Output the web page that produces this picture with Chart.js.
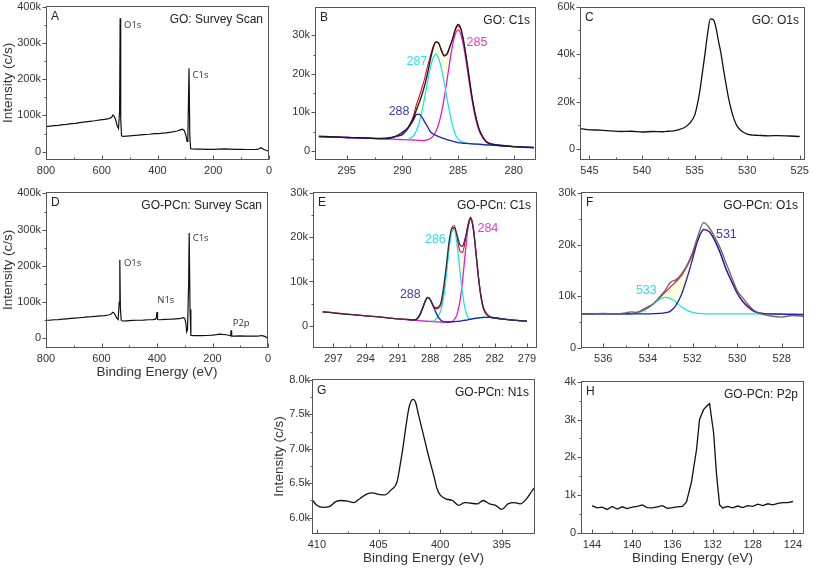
<!DOCTYPE html>
<html>
<head>
<meta charset="utf-8">
<title>XPS spectra of GO and GO-PCn</title>
<script src="https://cdn.jsdelivr.net/npm/chart.js@4.4.1/dist/chart.umd.min.js"></script>
<style>
  body { margin: 0; background: #fff; width: 813px; height: 568px; position: relative; overflow: hidden; }
  canvas { position: absolute; }
</style>
</head>
<body>
<script>
// all intensities in k counts/s

// A: GO survey
var surveyEnergyTicks = [800, 600, 400, 200, 0];
var surveyCountTicks = [0, 100, 200, 300, 400];
var goSurveyEnergy = [800, 785, 770, 755, 740, 725, 710, 695, 680, 665, 650, 635, 620, 605, 590, 575, 565, 560, 555, 550,
  545, 540, 536, 534, 532, 529, 525, 510, 490, 470, 450, 430, 410, 400, 390, 370, 350, 330, 318, 310,
  304, 298, 294, 291, 287, 284, 281, 278, 260, 240, 220, 200, 180, 160, 140, 120, 100, 80, 60, 45,
  35, 30, 25, 18, 10, 4, 0];
var goSurveyCounts = [69, 70.5, 72, 72.5, 74.5, 75.5, 77.5, 78, 80, 81.5, 83, 84, 86, 87.5, 89, 91, 94, 101, 97, 88,
  72, 64, 110, 368, 90, 44, 42, 43, 44.5, 45.5, 47, 48, 49.5, 50, 50.5, 52, 54, 57, 60, 62,
  58, 45, 28, 40, 230, 40, 8, 7.5, 7, 7, 6.5, 6.5, 7, 7.5, 7, 6.5, 6.5, 6, 6, 6.5,
  8, 11, 9, 6, 4, 2, 0];

// B: GO C1s
var goC1sEnergyTicks = [295, 290, 285, 280];
var goC1sCountTicks = [0, 10, 20, 30];
var goC1sEnergy = [297.5, 296, 295, 294, 293, 292, 291, 290.5, 290, 289.5, 289, 288.75, 288.5, 288.25, 288, 287.75, 287.5, 287.25, 287, 286.75,
  286.5, 286.25, 286, 285.75, 285.5, 285.25, 285, 284.75, 284.5, 284.25, 284, 283.75, 283.5, 283.25, 283, 282.5, 282, 281, 280, 279, 278.2];
var goC1sData = [3.75, 3.6, 3.45, 3.4, 3.25, 3.2, 3.5, 3.9, 4.8, 6.0, 8.5, 10.5, 12.5, 14.5, 17.0, 20.0, 23.5, 26.5, 28.2, 28.0,
  26.0, 24.6, 25.2, 27.0, 29.0, 31.5, 32.8, 31.8, 28.5, 24.0, 19.0, 14.0, 10.0, 7.0, 4.8, 2.4, 1.7, 1.3, 1.1, 0.9, 0.8];
var goC1sFit = [3.7, 3.55, 3.45, 3.35, 3.25, 3.15, 3.3, 3.8, 4.3, 5.9, 9.1, 11.9, 14.0, 16.3, 18.8, 21.8, 24.5, 27.0, 28.3, 28.0,
  26.3, 24.8, 25.0, 26.8, 29.0, 31.4, 32.4, 31.5, 28.3, 23.8, 18.9, 14.0, 10.2, 7.0, 4.8, 2.5, 1.8, 1.4, 1.1, 0.95, 0.85];
var goC1s288 = [3.7, 3.55, 3.45, 3.35, 3.25, 3.15, 3.3, 3.8, 4.2, 5.8, 8.0, 9.4, 9.5, 8.8, 7.5, 6.3, 5.0, 4.4, 4.0, 3.7,
  3.4, 3.15, 2.9, 2.7, 2.5, 2.3, 2.1, 2.05, 1.95, 1.9, 1.85, 1.8, 1.75, 1.7, 1.65, 1.55, 1.5, 1.3, 1.1, 0.95, 0.85];
var goC1s287 = [null, null, null, null, null, null, null, null, null, 2.9, 3.9, 5.2, 7.2, 10.1, 13.8, 17.8, 21.4, 24.0, 25.1, 24.0,
  21.4, 17.8, 13.7, 9.9, 6.6, 4.3, 3.0, 2.5, 2.2, 2.0, 1.9, 1.85, 1.8, 1.75, 1.7, 1.55, 1.45, 1.3, 1.1, 0.95, 0.85];
var goC1s285 = [3.7, 3.55, 3.45, 3.35, 3.25, 3.1, 3.0, 2.95, 2.9, 2.85, 2.8, 2.75, 2.7, 2.65, 2.7, 2.85, 3.2, 3.8, 5.0, 6.9,
  9.8, 13.6, 18.2, 23.0, 27.3, 30.3, 31.4, 30.2, 27.1, 22.7, 17.8, 13.2, 9.4, 6.4, 4.5, 2.4, 1.8, 1.4, 1.1, 0.95, 0.85];
var goC1sBackground = [3.7, 3.55, 3.45, 3.35, 3.25, 3.1, 3.0, 2.95, 2.9, 2.85, 2.8, 2.75, 2.7, 2.65, 2.6, 2.55, 2.5, 2.45, 2.4, 2.35,
  2.3, 2.25, 2.2, 2.15, 2.1, 2.05, 2.0, 1.95, 1.9, 1.85, 1.8, 1.75, 1.7, 1.65, 1.6, 1.5, 1.4, 1.3, 1.1, 0.95, 0.85];

// C: GO O1s
var goO1sEnergyTicks = [545, 540, 535, 530, 525];
var goO1sCountTicks = [0, 20, 40, 60];
var goO1sEnergy = [545.8, 545, 544, 543, 542, 541, 540, 539, 538, 537.5, 537, 536.5, 536, 535.5, 535, 534.75, 534.5, 534.25, 534, 533.75,
  533.5, 533.25, 533, 532.75, 532.5, 532.25, 532, 531.75, 531.5, 531.25, 531, 530.5, 530, 529.5, 529, 528, 527, 526, 525];
var goO1sCounts = [8.6, 8.1, 8.0, 7.7, 7.4, 7.5, 7.2, 7.4, 7.3, 7.5, 7.7, 8.2, 9.0, 10.7, 14.2, 18.5, 24.5, 32.5, 40.5, 49.0,
  54.8, 54.6, 51.8, 46.0, 40.5, 33.5, 27.0, 21.0, 16.3, 12.6, 10.0, 7.5, 6.3, 5.9, 5.8, 5.6, 5.7, 5.5, 5.3];

// D: GO-PCn survey
var pcSurveyEnergy = [800, 785, 770, 755, 740, 725, 710, 695, 680, 665, 650, 635, 620, 605, 590, 575, 565, 560, 555, 550,
  545, 540, 536, 534, 532, 529, 525, 510, 490, 470, 450, 430, 415, 405, 402, 400, 398, 390, 370, 350,
  330, 315, 305, 300, 296, 293, 290, 286, 284, 281, 278, 260, 240, 220, 200, 185, 175, 165, 150, 140,
  135, 133, 131, 120, 100, 80, 60, 40, 30, 25, 18, 10, 4, 0];
var pcSurveyCounts = [50, 50.5, 51.5, 52, 53, 54, 55, 56, 57, 58, 59.5, 60, 61, 62, 63, 64.5, 67, 72, 70, 64,
  56, 52, 100, 217, 85, 50, 48, 48.5, 49.5, 50, 50.5, 51.5, 52, 53, 60, 73, 52, 51.5, 52.5, 53,
  54, 55, 57, 55, 42, 18, 24, 150, 291, 80, 8, 7.5, 7.5, 8, 9, 10.5, 12, 11, 10, 8,
  7, 22, 6.5, 6.5, 7, 6.5, 6.5, 6.5, 7, 8, 7, 5, 2, 0];

// E: GO-PCn C1s
var pcC1sEnergyTicks = [297, 294, 291, 288, 285, 282, 279];
var pcC1sCountTicks = [0, 10, 20, 30];
var pcC1sEnergy = [298, 297, 296, 295, 294, 293, 292, 291, 290.5, 290, 289.5, 289.25, 289, 288.75, 288.5, 288.25, 288, 287.75, 287.5, 287.25,
  287, 286.75, 286.5, 286.25, 286, 285.75, 285.5, 285.25, 285, 284.75, 284.5, 284.25, 284, 283.75, 283.5, 283.25, 283, 282.5, 282, 281, 280, 279];
var pcC1sData = [3.1, 2.85, 2.6, 2.4, 2.2, 2.0, 1.75, 1.5, 1.45, 1.4, 1.3, 1.5, 2.3, 3.7, 5.3, 6.4, 5.9, 4.6, 4.0, 4.2,
  5.2, 8.8, 13.6, 19.0, 22.0, 22.2, 20.5, 18.4, 18.0, 19.8, 22.5, 24.4, 22.0, 16.5, 10.6, 6.1, 3.5, 2.0, 1.8, 1.4, 1.15, 1.0];
var pcC1sFit = [3.1, 2.9, 2.65, 2.45, 2.2, 2.0, 1.75, 1.5, 1.4, 1.3, 1.3, 1.45, 2.2, 3.6, 5.3, 6.4, 5.9, 4.6, 3.8, 3.9,
  4.7, 7.5, 12.4, 18.0, 22.1, 22.7, 19.9, 17.0, 16.6, 19.1, 22.8, 24.6, 22.6, 16.9, 10.9, 6.4, 3.8, 2.1, 1.75, 1.4, 1.15, 1.0];
var pcC1s288 = [null, null, null, null, null, null, null, null, null, 1.3, 1.3, 1.45, 2.2, 3.6, 5.3, 6.4, 5.9, 4.6, 3.1, 1.9,
  1.2, 0.9, 0.8, 0.8, 0.85, 0.9, 0.95, 1.0, 1.1, 1.2, 1.3, 1.45, 1.55, 1.65, 1.75, 1.8, 1.85, 1.85, 1.7, 1.4, 1.15, 1.0];
var pcC1s286 = [null, null, null, null, null, null, null, null, null, null, null, null, null, null, null, null, null, 0.9, 1.4, 2.2,
  3.5, 6.4, 11.4, 17.2, 21.3, 21.8, 18.2, 12.6, 7.3, 3.7, 1.9, 1.45, 1.5, 1.6, 1.7, 1.8, 1.85, 1.85, 1.7, 1.4, 1.15, 1.0];
var pcC1s284 = [3.1, 2.9, 2.65, 2.45, 2.2, 2.0, 1.75, 1.5, 1.4, 1.3, 1.2, 1.15, 1.1, 1.05, 1.0, 0.97, 0.95, 0.9, 0.85, 0.82,
  0.8, 0.8, 0.8, 0.8, 0.85, 1.4, 2.6, 5.3, 10.0, 16.2, 21.8, 24.1, 22.1, 16.6, 10.6, 6.1, 3.5, 2.0, 1.7, 1.4, 1.15, 1.0];
var pcC1sBackground = [3.1, 2.9, 2.65, 2.45, 2.2, 2.0, 1.75, 1.5, 1.4, 1.3, 1.2, 1.15, 1.1, 1.05, 1.0, 0.97, 0.95, 0.9, 0.85, 0.82,
  0.8, 0.8, 0.8, 0.8, 0.8, 0.85, 0.9, 0.95, 1.0, 1.1, 1.2, 1.3, 1.45, 1.55, 1.65, 1.75, 1.8, 1.85, 1.7, 1.4, 1.15, 1.0];

// F: GO-PCn O1s
var pcO1sEnergyTicks = [536, 534, 532, 530, 528];
var pcO1sCountTicks = [0, 10, 20, 30];
var pcO1sEnergy = [537, 536.5, 536, 535.5, 535, 534.75, 534.5, 534.25, 534, 533.75, 533.5, 533.25, 533, 532.75, 532.5, 532.25, 532, 531.75, 531.5, 531.25,
  531, 530.75, 530.5, 530.25, 530, 529.75, 529.5, 529.25, 529, 528.5, 528, 527.5, 527];
var pcO1sData = [6.5, 6.6, 6.7, 6.6, 6.8, 7.0, 6.9, 7.3, 7.8, 8.6, 9.8, 11.0, 12.7, 13.2, 14.3, 16.0, 18.5, 21.8, 24.3, 23.3,
  21.5, 19.3, 16.5, 13.8, 11.2, 9.7, 8.4, 7.3, 6.7, 6.2, 6.0, 6.3, 6.1];
var pcO1sFit = [6.6, 6.6, 6.6, 6.6, 6.6, 6.65, 6.9, 7.4, 8.0, 8.6, 9.6, 10.7, 11.8, 12.8, 14.0, 15.8, 18.0, 21.0, 22.9, 22.6,
  20.9, 18.4, 15.4, 13.0, 10.7, 9.1, 8.0, 7.2, 6.8, 6.6, 6.55, 6.5, 6.45];
var pcO1s531 = [6.6, 6.6, 6.6, 6.6, 6.6, 6.6, 6.6, 6.6, 6.6, 6.65, 6.7, 6.8, 7.1, 8.2, 10.3, 13.5, 17.2, 21.0, 23.0, 22.5,
  20.8, 18.3, 15.3, 12.9, 10.6, 9.0, 7.9, 7.1, 6.75, 6.6, 6.55, 6.5, 6.45];
var pcO1s533 = [6.6, 6.6, 6.6, 6.6, 6.6, 6.65, 6.8, 7.1, 7.7, 8.5, 9.35, 9.8, 9.6, 8.9, 8.0, 7.3, 6.9, 6.7, 6.65, 6.6,
  6.6, 6.6, 6.6, 6.6, 6.6, 6.6, 6.6, 6.6, 6.6, 6.6, 6.6, 6.6, 6.6];
var pcO1sBackground = [6.6, 6.6, 6.6, 6.6, 6.6, 6.6, 6.6, 6.6, 6.6, 6.6, 6.6, 6.6, 6.6, 6.6, 6.6, 6.6, 6.6, 6.6, 6.6, 6.6,
  6.6, 6.6, 6.6, 6.6, 6.6, 6.6, 6.6, 6.6, 6.6, 6.55, 6.55, 6.5, 6.45];

// G: GO-PCn N1s
var pcN1sEnergyTicks = [410, 405, 400, 395];
var pcN1sCountTicks = [6.0, 6.5, 7.0, 7.5, 8.0];
var pcN1sEnergy = [410.4, 410, 409.5, 409, 408.5, 408, 407.5, 407, 406.5, 406, 405.5, 405, 404.5, 404, 403.5, 403.25, 403, 402.75, 402.5, 402.2,
  402, 401.75, 401.35, 401, 400.5, 400.25, 400, 399.5, 399, 398.5, 398, 397.5, 397, 396.5, 396, 395.5, 395, 394.5, 394, 393.5, 393, 392.5, 392.3];
var pcN1sCounts = [6.26, 6.18, 6.15, 6.16, 6.23, 6.25, 6.24, 6.22, 6.28, 6.34, 6.36, 6.34, 6.33, 6.40, 6.52, 6.76, 7.04, 7.36, 7.62, 7.72,
  7.68, 7.49, 7.20, 6.94, 6.60, 6.42, 6.33, 6.27, 6.25, 6.18, 6.22, 6.21, 6.20, 6.25, 6.20, 6.18, 6.12, 6.20, 6.22, 6.20, 6.27, 6.40, 6.44];

// H: GO-PCn P2p
var pcP2pEnergyTicks = [144, 140, 136, 132, 128, 124];
var pcP2pCountTicks = [0, 1, 2, 3, 4];
var pcP2pEnergy = [144, 143.5, 143, 142.5, 142, 141.5, 141, 140.5, 140, 139.5, 139, 138.5, 138, 137.5, 137, 136.5, 136, 135.5, 135,
  134.6, 134.1, 133.6, 133.3, 132.9, 132.6, 132.3, 131.9, 131.6, 131.3, 131,
  130.5, 130, 129.5, 129, 128.5, 128, 127.5, 127, 126.5, 126, 125.5, 125, 124.5, 124];
var pcP2pCounts = [0.72, 0.66, 0.68, 0.62, 0.70, 0.63, 0.69, 0.64, 0.68, 0.70, 0.74, 0.67, 0.66, 0.69, 0.72, 0.65, 0.67, 0.69, 0.70,
  0.82, 1.35, 2.2, 3.0, 3.26, 3.35, 3.42, 2.65, 1.52, 0.74, 0.66,
  0.70, 0.66, 0.71, 0.67, 0.72, 0.70, 0.76, 0.72, 0.77, 0.74, 0.78, 0.80, 0.80, 0.83];

var FONT = '"Liberation Sans", Arial, sans-serif';
var NAVY = '#1f1fb2', CYAN = '#1fe4e4', MAGENTA = '#e21cc6', RED = '#e6003c';

function pts(xs, ys) {
  return xs.map(function (x, i) { return { x: x, y: ys[i] }; });
}

function line(xs, ys, color, extra) {
  var ds = { data: pts(xs, ys), borderColor: color, borderWidth: 1.3, pointRadius: 0, fill: false, tension: 0 };
  return Object.assign(ds, extra || {});
}

function fitted(xs, dataY, dataColor, fitY, comps, bgY) {
  var bg = comps.length + 2;
  var sets = [line(xs, dataY, dataColor, { cubicInterpolationMode: 'monotone' })];
  comps.forEach(function (c) {
    sets.push(line(xs, c[0], c[1], { cubicInterpolationMode: 'monotone', fill: { target: bg }, backgroundColor: '#ffffff' }));
  });
  sets.push(line(xs, fitY, RED, { cubicInterpolationMode: 'monotone', borderWidth: 1.1, fill: { target: bg }, backgroundColor: 'rgba(255,255,165,0.35)' }));
  sets.push(line(xs, bgY, 'rgba(0,0,0,0)', { borderWidth: 0 }));
  return sets;
}

function midpoints(t) {
  var m = [];
  for (var i = 0; i + 1 < t.length; i++) m.push((t[i] + t[i + 1]) / 2);
  return m;
}

function kLabel(v) { return v === 0 ? '0' : v + 'k'; }

function drawFrame(chart, p) {
  var ctx = chart.ctx, a = chart.chartArea, xs = chart.scales.x, ys = chart.scales.y;
  var L = Math.round(a.left) + 0.5, R = Math.round(a.right) - 0.5;
  var T = Math.round(a.top) + 0.5, B = Math.round(a.bottom) - 0.5;
  ctx.save();
  ctx.strokeStyle = '#555';
  ctx.lineWidth = 1;
  ctx.strokeRect(L, T, R - L, B - T);
  ctx.beginPath();
  p.yTicks.forEach(function (v) { var y = Math.round(ys.getPixelForValue(v)) + 0.5; ctx.moveTo(L, y); ctx.lineTo(L - 4, y); });
  midpoints(p.yTicks).forEach(function (v) { var y = Math.round(ys.getPixelForValue(v)) + 0.5; ctx.moveTo(L, y); ctx.lineTo(L - 2, y); });
  p.xTicks.forEach(function (v) { var x = Math.round(xs.getPixelForValue(v)) + 0.5; ctx.moveTo(x, B); ctx.lineTo(x, B - 4); });
  midpoints(p.xTicks).forEach(function (v) { var x = Math.round(xs.getPixelForValue(v)) + 0.5; ctx.moveTo(x, B); ctx.lineTo(x, B - 2); });
  ctx.stroke();

  ctx.fillStyle = '#222';
  ctx.textBaseline = 'middle';
  ctx.font = '12px ' + FONT;
  ctx.textAlign = 'left';
  ctx.fillText(p.letter, a.left + 5, a.top + 11.5);
  ctx.textAlign = 'right';
  ctx.fillText(p.title, a.right - 6, a.top + 14);

  (p.notes || []).forEach(function (n) {
    ctx.font = n.font;
    ctx.fillStyle = n.color;
    ctx.textAlign = n.align || 'center';
    ctx.fillText(n.text, xs.getPixelForValue(n.x), ys.getPixelForValue(n.y));
  });
  ctx.restore();
}

function makePanel(p) {
  var L = 46, T = 10, R = 14, B = 40;
  var l = p.box[0], t = p.box[1], r = p.box[2], b = p.box[3];
  var cv = document.createElement('canvas');
  cv.width = r - l + L + R;
  cv.height = b - t + T + B;
  cv.style.left = (l - L) + 'px';
  cv.style.top = (t - T) + 'px';
  document.body.appendChild(cv);

  var tickFont = { family: FONT, size: 11 };
  var titleFont = { family: FONT, size: 13.5 };

  new Chart(cv.getContext('2d'), {
    type: 'line',
    data: { datasets: p.datasets },
    options: {
      responsive: false,
      animation: false,
      events: [],
      layout: { padding: { left: 0, top: T, right: R, bottom: 0 } },
      plugins: {
        legend: { display: false },
        tooltip: { enabled: false },
        filler: { drawTime: 'beforeDatasetsDraw' }
      },
      scales: {
        x: {
          type: 'linear', reverse: true, min: p.xMin, max: p.xMax,
          grid: { display: false, drawTicks: false },
          border: { display: false },
          ticks: { font: tickFont, color: '#333', padding: 4, maxRotation: 0, autoSkip: false,
            callback: function (v) { return String(v); } },
          afterBuildTicks: function (s) { s.ticks = p.xTicks.map(function (v) { return { value: v }; }); },
          afterFit: function (s) { s.height = B; },
          title: { display: !!p.xTitle, text: 'Binding Energy (eV)', font: titleFont, color: '#333',
            padding: { top: 0, bottom: 8 } }
        },
        y: {
          type: 'linear', min: p.yMin, max: p.yMax,
          grid: { display: false, drawTicks: false },
          border: { display: false },
          ticks: { font: tickFont, color: '#333', padding: p.yTickPad || 5, autoSkip: false, callback: p.yFormat || kLabel },
          afterBuildTicks: function (s) { s.ticks = p.yTicks.map(function (v) { return { value: v }; }); },
          afterFit: function (s) { s.width = L; },
          title: { display: !!p.yTitle, text: 'Intensity (c/s)', font: titleFont, color: '#333',
            padding: { top: p.yTitlePad || 0, bottom: 0 } }
        }
      }
    },
    plugins: [{ id: 'frame', afterDraw: function (c) { drawFrame(c, p); } }]
  });
}

var noteFont = '9.5px "Open Sans", "Liberation Sans", sans-serif';
var peakFont = '12.5px ' + FONT;

makePanel({
  box: [46, 4, 269, 160], xMin: 0, xMax: 800, yMin: -23, yMax: 403,
  xTicks: surveyEnergyTicks, yTicks: surveyCountTicks, letter: 'A', title: 'GO: Survey Scan', yTitle: true,
  datasets: [line(goSurveyEnergy, goSurveyCounts, '#111', { borderWidth: 1.2 })],
  notes: [
    { text: 'O1s', x: 520, y: 348, font: noteFont, color: '#333', align: 'left' },
    { text: 'C1s', x: 274, y: 212, font: noteFont, color: '#333', align: 'left' }
  ]
});

makePanel({
  box: [315, 5, 536, 160], xMin: 278, xMax: 297.85, yMin: -2.4, yMax: 37.45,
  xTicks: goC1sEnergyTicks, yTicks: goC1sCountTicks, letter: 'B', title: 'GO: C1s',
  datasets: fitted(goC1sEnergy, goC1sData, '#1a1a1a', goC1sFit,
    [[goC1s288, NAVY], [goC1s287, CYAN], [goC1s285, MAGENTA]], goC1sBackground),
  notes: [
    { text: '288', x: 290.3, y: 10.3, font: peakFont, color: '#3b3bb4' },
    { text: '287', x: 288.7, y: 23.05, font: peakFont, color: '#2ee0e0' },
    { text: '285', x: 283.3, y: 28.0, font: peakFont, color: '#e03cc6' }
  ]
});

makePanel({
  box: [580, 5, 805, 160], xMin: 524.5, xMax: 545.9, yMin: -4.6, yMax: 60,
  xTicks: goO1sEnergyTicks, yTicks: goO1sCountTicks, letter: 'C', title: 'GO: O1s',
  datasets: [line(goO1sEnergy, goO1sCounts, '#111', { cubicInterpolationMode: 'monotone' })]
});

makePanel({
  box: [46, 190, 268, 348], xMin: 0, xMax: 800, yMin: -26.5, yMax: 405,
  xTicks: surveyEnergyTicks, yTicks: surveyCountTicks, letter: 'D', title: 'GO-PCn: Survey Scan',
  yTitle: true, xTitle: true,
  datasets: [line(pcSurveyEnergy, pcSurveyCounts, '#111', { borderWidth: 1.2 })],
  notes: [
    { text: 'O1s', x: 519, y: 207.6, font: noteFont, color: '#333', align: 'left' },
    { text: 'N1s', x: 399, y: 104.6, font: noteFont, color: '#333', align: 'left' },
    { text: 'C1s', x: 271.4, y: 277.5, font: noteFont, color: '#333', align: 'left' },
    { text: 'P2p', x: 127.2, y: 42.4, font: noteFont, color: '#333', align: 'left' }
  ]
});

makePanel({
  box: [313, 190, 537, 348], xMin: 278.07, xMax: 298.9, yMin: -5.1, yMax: 30.4,
  xTicks: pcC1sEnergyTicks, yTicks: pcC1sCountTicks, letter: 'E', title: 'GO-PCn: C1s',
  datasets: fitted(pcC1sEnergy, pcC1sData, '#333', pcC1sFit,
    [[pcC1s288, NAVY], [pcC1s286, CYAN], [pcC1s284, MAGENTA]], pcC1sBackground),
  notes: [
    { text: '288', x: 289.85, y: 6.98, font: peakFont, color: '#3b3bb4' },
    { text: '286', x: 287.52, y: 19.55, font: peakFont, color: '#2ee0e0' },
    { text: '284', x: 282.64, y: 21.97, font: peakFont, color: '#e03cc6' }
  ]
});

makePanel({
  box: [581, 190, 804, 348], xMin: 527, xMax: 537, yMin: 0, yMax: 30.3,
  xTicks: pcO1sEnergyTicks, yTicks: pcO1sCountTicks, letter: 'F', title: 'GO-PCn: O1s',
  datasets: fitted(pcO1sEnergy, pcO1sData, '#666', pcO1sFit,
    [[pcO1s531, NAVY], [pcO1s533, CYAN]], pcO1sBackground),
  notes: [
    { text: '531', x: 530.48, y: 22.0, font: peakFont, color: '#3b3bb4' },
    { text: '533', x: 534.07, y: 11.12, font: peakFont, color: '#2ee0e0' }
  ]
});

makePanel({
  box: [312, 379, 535, 534], xMin: 392.3, xMax: 410.4, yMin: 5.763, yMax: 8.015,
  xTicks: pcN1sEnergyTicks, yTicks: pcN1sCountTicks, letter: 'G', title: 'GO-PCn: N1s',
  yTitle: true, yTitlePad: 5, yTickPad: 2, xTitle: true,
  yFormat: function (v) { return v.toFixed(1) + 'k'; },
  datasets: [line(pcN1sEnergy, pcN1sCounts, '#111', { cubicInterpolationMode: 'monotone' })]
});

makePanel({
  box: [581, 379, 804, 534], xMin: 122.9, xMax: 145.1, yMin: -0.03, yMax: 4.03,
  xTicks: pcP2pEnergyTicks, yTicks: pcP2pCountTicks, letter: 'H', title: 'GO-PCn: P2p', xTitle: true,
  datasets: [line(pcP2pEnergy, pcP2pCounts, '#111')]
});
</script>
</body>
</html>
